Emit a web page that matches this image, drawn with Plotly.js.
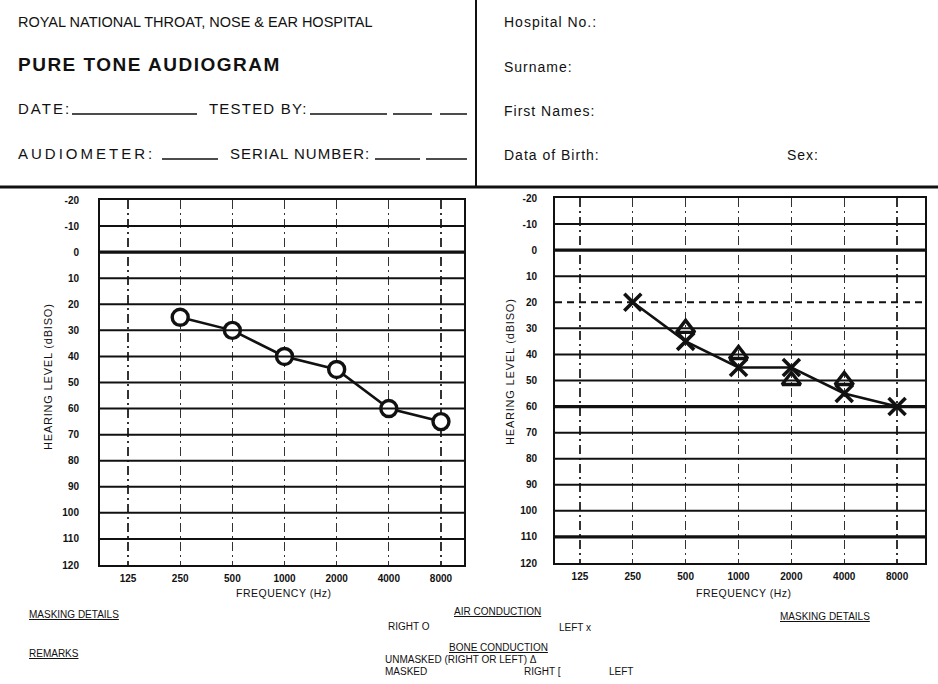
<!DOCTYPE html>
<html>
<head>
<meta charset="utf-8">
<script src="https://cdn.plot.ly/plotly-3.0.1.min.js"></script>
<style>html,body{margin:0;padding:0;background:#fff;}#chart{width:938px;height:684px;}</style>
</head>
<body>
<div id="chart"></div>
<script>
// ---- data ----
const freqs = [125, 250, 500, 1000, 2000, 4000, 8000];
const freqLabels = ['125', '250', '500', '1000', '2000', '4000', '8000'];
const levelTicks = [-20, -10, 0, 10, 20, 30, 40, 50, 60, 70, 80, 90, 100, 110, 120];
const levelLabels = ['-20', '-10', '0', '10', '20', '30', '40', '50', '60', '70', '80', '90', '100', '110', '120'];
const rightAirFreq = [250, 500, 1000, 2000, 4000, 8000];
const rightAirDb = [25, 30, 40, 45, 60, 65];
const leftAirFreq = [250, 500, 1000, 2000, 4000, 8000];
const leftAirDb = [20, 35, 45, 45, 55, 60];
const boneFreq = [500, 1000, 2000, 4000];
const boneDb = [30, 40, 50, 50];

// ---- helpers ----
const W = 938, H = 684;
const px = x => x / W;
const py = y => 1 - y / H;
const FONT = 'Liberation Sans, Arial, sans-serif';

function txt(x, y, text, size, opts) {
  opts = opts || {};
  let t = text;
  if (opts.ls) t = '<span style="letter-spacing:' + opts.ls + 'px">' + t + '</span>';
  if (opts.u) t = '<u>' + t + '</u>';
  if (opts.b) t = '<b>' + t + '</b>';
  return {
    xref: 'paper', yref: 'paper', x: px(x), y: py(y), text: t, showarrow: false,
    xanchor: opts.xa || 'left', yanchor: 'middle', textangle: opts.angle || 0,
    font: {family: FONT, size: size, color: '#111'}
  };
}
function seg(x0, y0, x1, y1, w, dash) {
  return {type: 'line', xref: 'paper', yref: 'paper', x0: px(x0), y0: py(y0), x1: px(x1), y1: py(y1),
    line: {color: '#111', width: w, dash: dash || 'solid'}};
}

// horizontal grid lines through the level axis
function hgrid(xa, ya, thick, dashed) {
  const out = [];
  levelTicks.forEach(v => {
    if (v === levelTicks[0] || v === levelTicks[levelTicks.length - 1]) return;
    out.push({type: 'line', xref: xa + ' domain', yref: ya, x0: 0, x1: 1, y0: v, y1: v,
      line: {color: '#111', width: thick.includes(v) ? 3.2 : 2, dash: dashed.includes(v) ? '7px,5px' : 'solid'}});
  });
  return out;
}

const xCommon = {
  type: 'log', tickvals: freqs, ticktext: freqLabels, showgrid: true, gridcolor: '#333', gridwidth: 1.2,
  griddash: '9px,4px,2px,4px', showline: true, mirror: true, linecolor: '#111', linewidth: 2, ticks: '',
  tickfont: {family: FONT, size: 10, color: '#111', weight: 'bold'}, zeroline: false, ticklabelstandoff: 3,
  fixedrange: true
};
const yCommon = {
  range: [120, -20], tickvals: levelTicks, ticktext: levelLabels, showgrid: false, showline: true, mirror: true,
  linecolor: '#111', linewidth: 2, ticks: '', zeroline: false,
  tickfont: {family: FONT, size: 10, color: '#111', weight: 'bold'}, fixedrange: true
};

const traces = [
  {x: rightAirFreq, y: rightAirDb, xaxis: 'x', yaxis: 'y', mode: 'lines+markers', name: 'Right O',
    line: {color: '#111', width: 2.6},
    marker: {symbol: 'circle', size: 16, color: '#fff', line: {color: '#111', width: 3.4}}},
  {x: leftAirFreq, y: leftAirDb, xaxis: 'x2', yaxis: 'y2', mode: 'lines+markers', name: 'Left X',
    line: {color: '#111', width: 2.6},
    marker: {symbol: 'x-thin', size: 17, color: '#111', line: {color: '#111', width: 3.6}}},
  {x: boneFreq, y: boneDb, xaxis: 'x2', yaxis: 'y2', mode: 'markers', name: 'Bone',
    marker: {symbol: 'triangle-up-open', size: 16, color: '#111', line: {color: '#111', width: 3.4}}}
];

const annotations = [
  txt(16, 22, 'ROYAL NATIONAL THROAT, NOSE &amp; EAR HOSPITAL', 14.5),
  txt(16, 64, 'PURE TONE AUDIOGRAM', 19, {b: true, ls: 1.5}),
  txt(16, 108, 'DATE:', 15, {ls: 2}),
  txt(207, 108, 'TESTED BY:', 15, {ls: 1.2}),
  txt(16, 153, 'AUDIOMETER:', 15, {ls: 3}),
  txt(228, 153, 'SERIAL NUMBER:', 15, {ls: 1}),
  txt(502, 22, 'Hospital No.:', 14, {ls: 1}),
  txt(502, 67, 'Surname:', 14, {ls: 1}),
  txt(502, 111, 'First Names:', 14, {ls: 1}),
  txt(502, 155, 'Data of Birth:', 14, {ls: 1}),
  txt(785, 155, 'Sex:', 14, {ls: 1}),
  // axis titles
  txt(48, 377, 'HEARING LEVEL (dBISO)', 11, {angle: -90, xa: 'center', ls: 0.8}),
  txt(510, 372, 'HEARING LEVEL (dBISO)', 11, {angle: -90, xa: 'center', ls: 0.8}),
  txt(283, 593, 'FREQUENCY (Hz)', 10.5, {xa: 'center', ls: 0.5}),
  txt(743, 593, 'FREQUENCY (Hz)', 10.5, {xa: 'center', ls: 0.5}),
  // footer
  txt(27, 614, 'MASKING DETAILS', 10, {u: true}),
  txt(27, 653, 'REMARKS', 10, {u: true}),
  txt(778, 616, 'MASKING DETAILS', 10, {u: true}),
  txt(386, 626, 'RIGHT O', 10),
  txt(452, 611, 'AIR CONDUCTION', 10, {u: true}),
  txt(557, 627, 'LEFT x', 10),
  txt(447, 647, 'BONE CONDUCTION', 10, {u: true}),
  txt(383, 659, 'UNMASKED (RIGHT OR LEFT) \u0394', 10),
  txt(383, 671, 'MASKED', 10),
  txt(522, 671, 'RIGHT [', 10),
  txt(607, 671, 'LEFT', 10)
];

const shapes = [
  seg(476, 0, 476, 186, 2),
  seg(0, 187, 938, 187, 3),
  seg(72, 114, 197, 114, 1.5),
  seg(310, 114, 387, 114, 1.5),
  seg(393, 114, 432, 114, 1.5),
  seg(440, 114, 467, 114, 1.5),
  seg(162, 159, 218, 159, 1.5),
  seg(375, 159, 420, 159, 1.5),
  seg(426, 159, 467, 159, 1.5)
].concat(hgrid('x', 'y', [0], []), hgrid('x2', 'y2', [0, 60, 110], [20]));

const layout = {
  width: W, height: H, margin: {l: 0, r: 0, t: 0, b: 0}, paper_bgcolor: '#fff', plot_bgcolor: '#fff',
  showlegend: false,
  xaxis: Object.assign({}, xCommon, {domain: [px(100), px(464)], range: [1.935, 4.036], anchor: 'y'}),
  yaxis: Object.assign({}, yCommon, {domain: [py(565), py(200)], anchor: 'x', ticklabelstandoff: 17}),
  xaxis2: Object.assign({}, xCommon, {domain: [px(555), px(925)], range: [1.955, 4.062], anchor: 'y2'}),
  yaxis2: Object.assign({}, yCommon, {domain: [py(563), py(198)], anchor: 'x2', ticklabelstandoff: 14}),
  annotations: annotations,
  shapes: shapes
};

Plotly.newPlot('chart', traces, layout, {displayModeBar: false, staticPlot: true});
</script>
</body>
</html>
